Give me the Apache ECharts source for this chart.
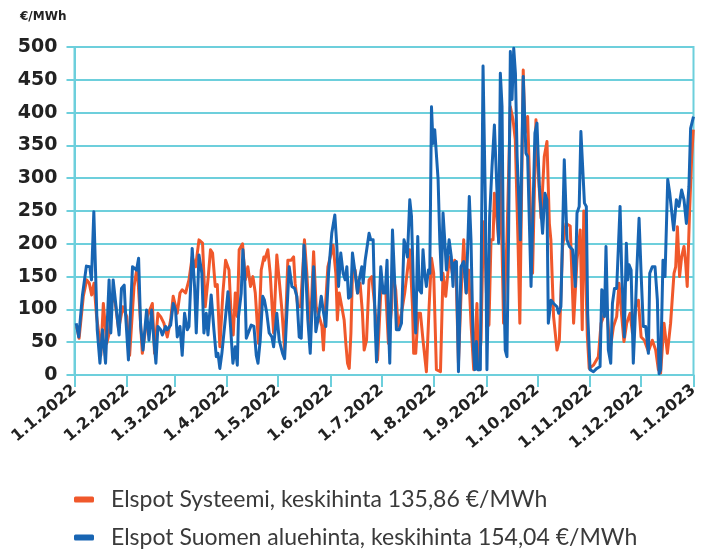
<!DOCTYPE html>
<html>
<head>
<meta charset="utf-8">
<script src="https://cdn.jsdelivr.net/npm/echarts@6/dist/echarts.min.js"></script>
<style>
html,body{margin:0;padding:0;background:#fff;}
#main{width:718px;height:550px;}
</style>
</head>
<body>
<div id="main"></div>
<script>
// päivä vuoden alusta (0 = 1.1.2022), hinta €/MWh
var monthStarts = [0, 31, 59, 90, 120, 151, 181, 212, 243, 273, 304, 334, 365];
var monthLabels = ['1.1.2022','1.2.2022','1.3.2022','1.4.2022','1.5.2022','1.6.2022','1.7.2022',
    '1.8.2022','1.9.2022','1.10.2022','1.11.2022','1.12.2022','1.1.2023'];

var sysName = 'Elspot Systeemi, keskihinta 135,86 €/MWh';
var finName = 'Elspot Suomen aluehinta, keskihinta 154,04 €/MWh';

var sysDays = [1.3,2.7,5.2,7.2,8.7,10.1,11.5,13,14,15.5,17,19,20.5,22,24,26,28.5,30.8,32.5,35.1,
    37,40,42.9,45.9,47.2,49.2,50.8,52.7,54.7,56.7,58.2,60.6,62.2,63.5,65.5,67.5,69.4,71.4,73.4,
    74.4,75.5,77.1,78.7,80.2,81.4,83,84.2,85.7,87.5,89.1,91.1,92.4,93.6,94.8,96,97.1,99.1,100.7,102.2,
    103.8,105.2,106.6,108.5,110.1,111.7,112.1,114,115.4,117.4,119.3,120.7,122.3,123.9,125.8,127.8,129.2,
    130.1,131.7,133.3,135.6,137,139,141,142.5,144.3,145.9,146.8,148.2,149.4,150.2,152.5,154.1,155,156.1,
    157.6,159,160,161,162,163,163.9,165.5,166.9,168.4,169.8,170.8,172.2,173.7,175.3,176.7,177.7,178.7,
    180.6,182,183.6,185.1,187,187.5,189.4,190.8,192.8,194.7,196.1,197.7,199.3,200,201.2,202.6,204,205.5,
    207.5,209.1,210.5,211.8,213.4,215.8,217.3,218.9,220.3,221.3,222.8,224.2,225.2,226.4,227.9,229.5,230.9,
    232.4,233.8,235.4,237.3,238.3,239.7,240.9,241.7,242.9,244.4,245.6,246.8,247.6,248.8,250.1,251.1,252.1,
    253,255,257,258.6,259.9,261.5,262.6,264.6,265.6,267.2,268.8,270.1,272.1,273.5,275.1,277,278.6,280,
    280.9,282.5,284.5,285.9,287.8,289.8,292.3,294.3,296.3,298.2,299.4,300.3,301.2,302.4,303.5,306,308.9,
    310.5,311.9,313.8,315.8,317.8,319.7,321.1,322.7,324,325.6,327.6,329,330.9,332.5,334.1,336,338.4,340.7,
    342.7,344.3,345.6,347.6,349.6,351.5,353.5,354.5,355.5,356.8,358,359.4,360.4,361.3,362.7,363.9,364.9];
var sysVals = [74,56,120,145,140,122,140,90,70,30,109,48,64,120,110,70,104,89,30,135,
    165,33,89,109,33,94,89,79,58,84,120,94,125,130,125,145,180,165,206,
    206,201,104,145,191,186,135,138,43,125,175,160,89,61,125,89,191,200,145,165,
    135,150,125,48,160,180,175,191,155,64,183,145,99,38,175,175,180,
    140,104,104,206,155,64,188,104,89,74,38,114,165,165,198,155,84,125,
    104,84,48,18,10,64,155,160,125,140,94,38,53,145,150,114,84,23,
    125,135,125,48,104,155,130,74,94,125,155,191,104,33,33,94,94,53,
    5,104,178,155,8,5,155,120,160,180,155,175,135,18,120,206,125,
    160,79,8,109,8,53,206,234,125,76,206,206,277,247,206,328,196,
    79,206,409,389,359,206,79,465,369,394,257,155,389,307,239,333,356,231,
    206,89,38,53,196,231,227,79,175,221,69,250,180,60,10,15,28,
    79,89,104,38,74,89,140,89,51,79,94,64,104,114,58,53,36,53,
    38,8,3,79,33,79,155,165,226,150,180,196,170,135,250,330,374];

var finDays = [1,2.5,4.7,5.5,7,9,10,11.4,13.4,15,16.5,18.3,20.4,21.4,22.8,23.8,26.3,27.7,29.3,30.2,31.8,34.2,
    35,36.6,37.8,39,40.4,42.5,43.9,45.5,46.8,48,49.2,50.8,51.8,53.7,54.7,56.7,58.2,59.6,60.6,62.2,63.5,64.9,
    66.5,67.5,69.4,70.8,71.8,73.4,74.3,75.1,76.3,77.7,78.7,80.6,82.2,83.6,84.6,85.7,86.9,88.5,90.5,92,93.4,
    94.8,96,96.7,98.3,99.3,100.3,101.3,102.2,104.2,105.8,107.2,108.2,109.5,111,112,113.4,114.8,116.4,117.4,
    119.3,120.7,122.7,123.9,125.2,126.6,128.2,129.8,131.1,132.5,133.7,135.3,136.4,137.6,139,141,142.3,143.9,
    145.5,146.9,148.2,149.8,151.7,153.5,154.7,155.7,157,158.4,159.6,160.6,161.6,162.9,163.9,165.5,166.9,
    167.9,169.4,170.2,171.4,172.2,173.7,174.7,176.1,177.3,178.1,179.2,180.6,182,183.2,184.3,185.1,185.9,
    187.5,188.6,189.8,191.4,192.8,194.3,195.3,196.3,197.7,198.7,200,201.2,202.4,203.2,204.6,205.5,206.5,
    207.5,208.7,209.5,210.5,211.4,212.4,214.4,215.4,216.4,217.3,218.3,219.3,220.9,222.2,223.2,223.6,225.2,
    226.4,227.9,229.5,231,232.8,233.8,235,236,237,237.7,239.3,240.9,242.3,243.2,244.8,246.2,247.6,249.1,
    250.1,251.1,252.1,253,254,255,256,257,258,259,260,261,262.9,264.6,266.2,267.2,269.2,271.5,272.7,274.1,
    276,277.4,278.6,279.4,281,282.5,284.5,285.5,286.8,288.8,290.4,291.8,293.7,295.3,296.3,297.6,298.6,299.1,
    300.7,301.8,302.6,304,306,308,309.9,310.9,311.9,312.5,313.4,314.8,316.2,317.2,318.4,319.7,321.7,322.7,
    324.2,325.4,326.2,327,328.2,329.5,330.5,331.5,332.9,334.1,335.4,336.8,338.4,339.2,340.7,342.3,343.7,
    344.7,345.6,347,348.2,349.8,351,352.1,353.3,354.9,356.4,358,359.4,360.8,362.3,363.3,365];
var finVals = [79,58,122,120,166,165,145,249,69,18,69,18,145,64,145,145,61,132,137,89,23,165,
    165,160,178,74,38,99,53,99,53,18,74,69,61,74,69,76,109,99,58,74,30,94,
    69,74,193,135,64,183,183,155,64,94,61,122,69,28,33,10,33,74,127,74,18,
    43,15,89,125,191,155,56,53,76,74,30,18,53,120,114,94,64,58,43,
    94,53,33,25,94,165,135,132,120,58,56,198,155,84,33,165,66,89,
    120,94,74,155,216,244,196,135,186,155,145,165,117,120,186,155,125,
    145,165,140,175,178,216,206,206,74,20,23,165,125,125,175,79,18,
    221,155,69,69,79,206,196,180,267,242,120,64,211,130,125,191,155,
    135,160,155,409,353,374,298,206,145,247,206,160,206,180,135,170,173,
    5,165,173,125,272,206,53,8,51,8,8,471,257,8,242,318,381,282,
    201,460,409,155,38,28,221,493,420,498,460,333,206,455,338,333,135,369,384,287,
    216,277,267,79,114,109,104,94,104,328,206,196,191,135,247,257,371,374,
    262,257,94,8,5,10,13,130,125,89,196,38,18,109,132,132,257,155,
    58,201,145,168,160,18,79,155,239,155,74,74,33,155,165,165,114,
    2,8,175,150,298,277,277,221,267,257,282,267,231,287,376,394];

function pairs(days, vals) {
    var out = [];
    for (var i = 0; i < days.length; i++) out.push([days[i], vals[i]]);
    return out;
}

var gridColor = '#6dcfdc';
var legendText = {fontFamily: 'Lato', fontSize: 23, color: '#3a3a3a', padding: [0, 0, 0, 12]};
var chart = echarts.init(document.getElementById('main'));
var option = {
    animation: false,
    title: {
        text: '€/MWh',
        left: 15, top: 6,
        textStyle: {fontFamily: 'DejaVu Sans', fontWeight: 'bold', fontSize: 12, color: '#222'}
    },
    grid: {
        left: 74.5, right: 24.5, top: 47, bottom: 175,
        show: true, borderColor: gridColor, borderWidth: 2
    },
    legend: [{
        left: 69, top: 483,
        itemWidth: 20, itemHeight: 6, icon: 'roundRect',
        textStyle: legendText,
        data: [sysName]
    }, {
        left: 69, top: 521,
        itemWidth: 20, itemHeight: 6, icon: 'roundRect',
        textStyle: legendText,
        data: [finName]
    }],
    xAxis: {
        type: 'value', min: 0, max: 365,
        splitLine: {show: false},
        axisLine: {lineStyle: {color: gridColor, width: 2}},
        axisTick: {show: true, length: 12, customValues: monthStarts, lineStyle: {color: gridColor, width: 2}},
        axisLabel: {
            customValues: monthStarts, rotate: 40, margin: 13,
            fontFamily: 'DejaVu Sans', fontWeight: 'bold', fontSize: 16, color: '#222',
            formatter: function (v) {
                var i = monthStarts.indexOf(v);
                return i >= 0 ? monthLabels[i] : '';
            }
        }
    },
    yAxis: {
        type: 'value', min: 0, max: 500, interval: 50,
        axisLine: {show: true, lineStyle: {color: gridColor, width: 2}},
        axisTick: {show: true, length: 8, lineStyle: {color: gridColor, width: 2}},
        splitLine: {lineStyle: {color: gridColor, width: 2}},
        axisLabel: {margin: 17, fontFamily: 'DejaVu Sans', fontWeight: 'bold', fontSize: 19, color: '#222'}
    },
    series: [{
        name: sysName,
        type: 'line', showSymbol: false,
        itemStyle: {color: '#f0582b'},
        lineStyle: {color: '#f0582b', width: 3, join: 'round'},
        data: pairs(sysDays, sysVals)
    }, {
        name: finName,
        type: 'line', showSymbol: false,
        itemStyle: {color: '#1865b3'},
        lineStyle: {color: '#1865b3', width: 3, join: 'round'},
        data: pairs(finDays, finVals)
    }]
};
chart.setOption(option);
</script>
</body>
</html>
